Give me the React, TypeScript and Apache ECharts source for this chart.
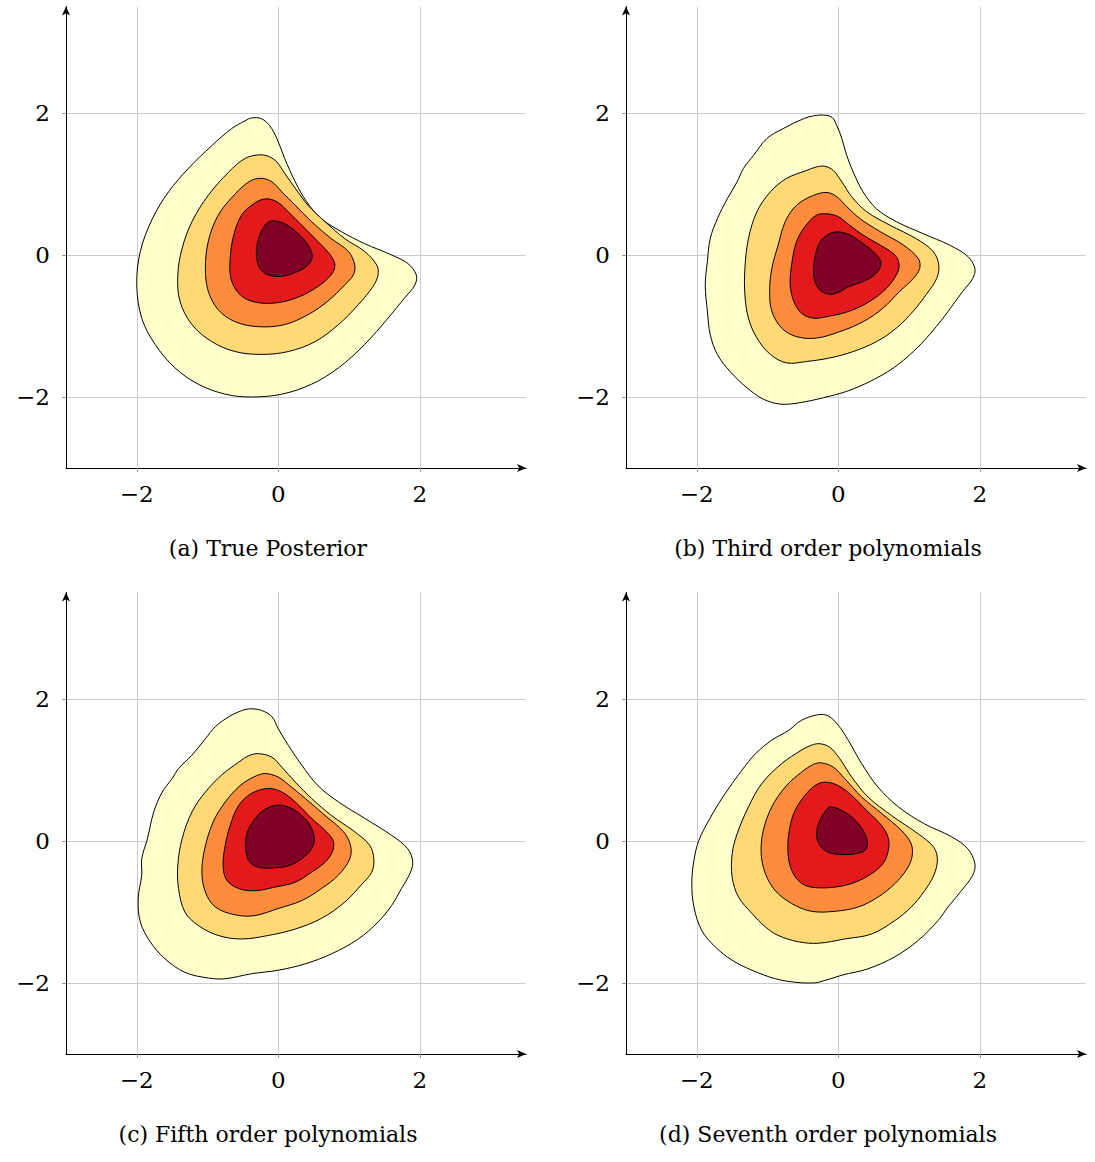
import React, { useEffect, useRef } from "react";
import * as echarts from "echarts";

// ---------- data (contour polygons in data units) ----------
const LEVEL_COLORS = ["#FFFFCC", "#FED976", "#FD8D3C", "#E31A1C", "#800026"];
const TICKS = [-2, 0, 2];
const CAPTIONS = [
  "(a) True Posterior",
  "(b) Third order polynomials",
  "(c) Fifth order polynomials",
  "(d) Seventh order polynomials",
];

// (a) True Posterior
const A1 = [[-0.38,1.93],[-0.24,1.92],[-0.12,1.82],[-0.02,1.64],[0.09,1.36],[0.24,1.03],[0.40,0.75],[0.61,0.51],[0.89,0.33],[1.22,0.16],[1.60,0],[1.83,-0.12],[1.95,-0.28],[1.93,-0.42],[1.78,-0.61],[1.55,-0.89],[1.22,-1.26],[0.85,-1.59],[0.47,-1.82],[0.05,-1.96],[-0.38,-2.0],[-0.75,-1.96],[-1.13,-1.82],[-1.46,-1.59],[-1.74,-1.26],[-1.93,-0.89],[-2.0,-0.42],[-1.95,0.05],[-1.78,0.51],[-1.55,0.89],[-1.27,1.22],[-0.94,1.54],[-0.66,1.78],[-0.47,1.89]];
const A2 = [[-0.28,1.41],[-0.14,1.39],[-0.02,1.31],[0.09,1.15],[0.24,0.94],[0.42,0.70],[0.66,0.47],[0.94,0.23],[1.22,0.05],[1.39,-0.14],[1.41,-0.28],[1.34,-0.44],[1.13,-0.70],[0.85,-0.98],[0.52,-1.22],[0.14,-1.36],[-0.24,-1.40],[-0.61,-1.36],[-0.94,-1.22],[-1.22,-0.98],[-1.39,-0.65],[-1.42,-0.28],[-1.36,0.09],[-1.22,0.47],[-0.99,0.84],[-0.70,1.17],[-0.47,1.36]];
const A3 = [[-0.24,1.08],[-0.09,1.03],[0.05,0.89],[0.24,0.70],[0.47,0.47],[0.75,0.23],[0.99,0.05],[1.08,-0.14],[1.06,-0.28],[0.94,-0.42],[0.70,-0.65],[0.42,-0.84],[0.09,-0.98],[-0.28,-1.01],[-0.61,-0.94],[-0.85,-0.77],[-0.99,-0.51],[-1.03,-0.19],[-0.99,0.19],[-0.85,0.56],[-0.61,0.86],[-0.40,1.04]];
const A4 = [[-0.19,0.79],[-0.02,0.75],[0.14,0.61],[0.33,0.42],[0.56,0.19],[0.75,-0.02],[0.80,-0.16],[0.73,-0.30],[0.52,-0.47],[0.24,-0.61],[-0.09,-0.68],[-0.38,-0.65],[-0.56,-0.54],[-0.67,-0.33],[-0.68,-0.05],[-0.63,0.28],[-0.52,0.56],[-0.35,0.72]];
const A5 = [[-0.09,0.48],[0.09,0.44],[0.28,0.30],[0.42,0.14],[0.48,-0.02],[0.42,-0.14],[0.28,-0.23],[0.05,-0.30],[-0.14,-0.28],[-0.26,-0.19],[-0.31,0],[-0.28,0.23],[-0.19,0.42]];

// (b) Third order polynomials
const B1 = [[-0.21,1.97],[-0.09,1.94],[-0.02,1.82],[0.05,1.64],[0.12,1.40],[0.21,1.17],[0.35,0.89],[0.54,0.65],[0.82,0.47],[1.20,0.30],[1.57,0.14],[1.83,-0.02],[1.93,-0.19],[1.90,-0.33],[1.76,-0.51],[1.62,-0.70],[1.48,-0.89],[1.29,-1.12],[1.06,-1.36],[0.78,-1.59],[0.45,-1.78],[0.12,-1.92],[-0.21,-2.01],[-0.54,-2.08],[-0.82,-2.10],[-1.06,-2.03],[-1.29,-1.87],[-1.53,-1.64],[-1.71,-1.40],[-1.81,-1.12],[-1.85,-0.79],[-1.88,-0.42],[-1.85,-0.09],[-1.81,0.23],[-1.71,0.51],[-1.57,0.79],[-1.43,1.03],[-1.34,1.22],[-1.20,1.40],[-1.01,1.64],[-0.78,1.78],[-0.49,1.92],[-0.35,1.96]];
const B2 = [[-0.19,1.25],[-0.07,1.19],[0.05,1.03],[0.19,0.82],[0.40,0.61],[0.73,0.42],[1.10,0.23],[1.34,0.05],[1.42,-0.14],[1.39,-0.33],[1.24,-0.56],[1.06,-0.79],[0.82,-1.03],[0.54,-1.22],[0.21,-1.36],[-0.12,-1.45],[-0.45,-1.50],[-0.73,-1.52],[-0.96,-1.40],[-1.15,-1.17],[-1.27,-0.89],[-1.32,-0.56],[-1.32,-0.19],[-1.27,0.23],[-1.15,0.61],[-0.96,0.89],[-0.73,1.08],[-0.45,1.19],[-0.31,1.24]];
const B3 = [[-0.16,0.88],[-0.02,0.82],[0.12,0.68],[0.31,0.51],[0.59,0.33],[0.92,0.14],[1.13,-0.05],[1.15,-0.19],[1.06,-0.33],[0.87,-0.51],[0.63,-0.75],[0.35,-0.94],[0.02,-1.08],[-0.31,-1.17],[-0.59,-1.15],[-0.80,-1.03],[-0.94,-0.79],[-0.97,-0.51],[-0.94,-0.19],[-0.85,0.14],[-0.75,0.47],[-0.59,0.70],[-0.35,0.84]];
const B4 = [[-0.16,0.58],[0,0.54],[0.16,0.42],[0.35,0.28],[0.59,0.14],[0.80,0],[0.86,-0.14],[0.82,-0.28],[0.68,-0.47],[0.45,-0.65],[0.16,-0.79],[-0.12,-0.86],[-0.35,-0.89],[-0.52,-0.82],[-0.63,-0.65],[-0.68,-0.42],[-0.66,-0.14],[-0.59,0.19],[-0.47,0.40],[-0.31,0.56]];
const B5 = [[-0.07,0.32],[0.12,0.30],[0.31,0.19],[0.49,0.05],[0.60,-0.09],[0.56,-0.23],[0.40,-0.35],[0.16,-0.44],[-0.07,-0.55],[-0.24,-0.51],[-0.33,-0.37],[-0.35,-0.19],[-0.31,0.05],[-0.24,0.21]];

// (c) Fifth order polynomials
const C1 = [[-0.42,1.86],[-0.24,1.84],[-0.09,1.75],[0,1.58],[0.14,1.35],[0.33,1.07],[0.56,0.78],[0.85,0.55],[1.22,0.32],[1.60,0.08],[1.83,-0.11],[1.90,-0.30],[1.85,-0.48],[1.74,-0.67],[1.60,-0.91],[1.41,-1.14],[1.13,-1.38],[0.75,-1.59],[0.38,-1.73],[0,-1.82],[-0.38,-1.87],[-0.75,-1.94],[-0.99,-1.93],[-1.32,-1.85],[-1.60,-1.66],[-1.81,-1.42],[-1.95,-1.14],[-1.98,-0.81],[-1.93,-0.48],[-1.93,-0.25],[-1.85,0.03],[-1.76,0.41],[-1.64,0.69],[-1.50,0.88],[-1.41,1.02],[-1.22,1.21],[-1.03,1.44],[-0.89,1.61],[-0.70,1.75],[-0.56,1.82]];
const C2 = [[-0.28,1.23],[-0.09,1.18],[0.05,1.04],[0.24,0.83],[0.47,0.60],[0.75,0.36],[1.08,0.13],[1.29,-0.06],[1.35,-0.25],[1.32,-0.44],[1.17,-0.62],[0.94,-0.86],[0.61,-1.09],[0.24,-1.24],[-0.14,-1.33],[-0.52,-1.38],[-0.85,-1.33],[-1.13,-1.19],[-1.32,-1.0],[-1.41,-0.67],[-1.42,-0.34],[-1.36,0.03],[-1.22,0.41],[-1.03,0.69],[-0.80,0.93],[-0.56,1.11],[-0.42,1.20]];
const C3 = [[-0.19,0.95],[0,0.90],[0.16,0.78],[0.38,0.60],[0.66,0.36],[0.92,0.13],[1.02,-0.06],[1.01,-0.25],[0.85,-0.48],[0.61,-0.67],[0.33,-0.84],[0,-0.95],[-0.33,-1.05],[-0.61,-1.04],[-0.89,-0.93],[-1.03,-0.72],[-1.08,-0.44],[-1.04,-0.11],[-0.92,0.27],[-0.75,0.55],[-0.54,0.78],[-0.35,0.90]];
const C4 = [[-0.14,0.74],[0.05,0.69],[0.24,0.55],[0.47,0.32],[0.68,0.13],[0.78,-0.01],[0.76,-0.16],[0.66,-0.30],[0.47,-0.44],[0.24,-0.58],[-0.05,-0.65],[-0.33,-0.70],[-0.56,-0.67],[-0.73,-0.55],[-0.78,-0.34],[-0.75,-0.06],[-0.68,0.22],[-0.56,0.50],[-0.38,0.67]];
const C5 = [[-0.05,0.50],[0.14,0.48],[0.33,0.36],[0.46,0.20],[0.51,0.03],[0.47,-0.11],[0.33,-0.25],[0.14,-0.35],[-0.09,-0.38],[-0.28,-0.37],[-0.40,-0.30],[-0.46,-0.13],[-0.45,0.08],[-0.38,0.24],[-0.24,0.41]];

// (d) Seventh order polynomials
const D1 = [[-0.28,1.78],[-0.14,1.76],[0,1.63],[0.14,1.42],[0.33,1.09],[0.56,0.76],[0.85,0.48],[1.22,0.24],[1.60,0.06],[1.83,-0.11],[1.93,-0.32],[1.90,-0.48],[1.74,-0.70],[1.55,-0.93],[1.41,-1.12],[1.13,-1.40],[0.80,-1.63],[0.42,-1.80],[0.05,-1.89],[-0.28,-1.99],[-0.42,-2.0],[-0.61,-1.99],[-0.89,-1.94],[-1.22,-1.82],[-1.50,-1.68],[-1.74,-1.49],[-1.93,-1.26],[-2.04,-0.93],[-2.07,-0.60],[-2.04,-0.27],[-1.97,0.01],[-1.83,0.29],[-1.69,0.53],[-1.50,0.81],[-1.36,1.0],[-1.17,1.23],[-0.94,1.42],[-0.70,1.56],[-0.52,1.70]];
const D2 = [[-0.26,1.37],[-0.12,1.32],[0.02,1.16],[0.19,0.90],[0.42,0.62],[0.75,0.36],[1.13,0.10],[1.35,-0.09],[1.40,-0.27],[1.35,-0.48],[1.22,-0.70],[1.03,-0.93],[0.80,-1.12],[0.47,-1.31],[0.09,-1.38],[-0.28,-1.44],[-0.56,-1.42],[-0.85,-1.33],[-1.03,-1.21],[-1.22,-1.02],[-1.41,-0.79],[-1.50,-0.51],[-1.50,-0.18],[-1.43,0.10],[-1.27,0.48],[-1.08,0.81],[-0.80,1.09],[-0.52,1.28],[-0.38,1.35]];
const D3 = [[-0.24,1.10],[-0.07,1.04],[0.09,0.88],[0.33,0.62],[0.61,0.39],[0.89,0.15],[1.03,-0.04],[1.04,-0.23],[0.96,-0.41],[0.80,-0.60],[0.56,-0.79],[0.28,-0.93],[-0.05,-0.99],[-0.38,-0.99],[-0.66,-0.88],[-0.89,-0.70],[-1.03,-0.46],[-1.09,-0.18],[-1.06,0.15],[-0.94,0.48],[-0.75,0.76],[-0.52,0.97],[-0.35,1.08]];
const D4 = [[-0.19,0.83],[0,0.78],[0.19,0.64],[0.40,0.43],[0.61,0.22],[0.71,0.03],[0.70,-0.16],[0.63,-0.32],[0.47,-0.46],[0.24,-0.58],[-0.05,-0.65],[-0.38,-0.65],[-0.54,-0.58],[-0.66,-0.41],[-0.71,-0.18],[-0.70,0.10],[-0.63,0.39],[-0.49,0.62],[-0.33,0.78]];
const D5 = [[-0.12,0.48],[0.05,0.43],[0.21,0.32],[0.35,0.15],[0.41,-0.01],[0.38,-0.13],[0.24,-0.18],[0.05,-0.19],[-0.14,-0.16],[-0.26,-0.06],[-0.31,0.10],[-0.26,0.29],[-0.19,0.41]];

const PANEL_LEVELS = [
  [A1, A2, A3, A4, A5],
  [B1, B2, B3, B4, B5],
  [C1, C2, C3, C4, C5],
  [D1, D2, D3, D4, D5],
];

// ---------- layout ----------
const GRIDS = [
  { left: 66, top: 6.5 },
  { left: 626, top: 6.5 },
  { left: 66, top: 592.5 },
  { left: 626, top: 592.5 },
];
const GRID_W = 460;
const GRID_H = 461.5;
const CAPTION_POS = [
  [268, 548],
  [828, 548],
  [268, 1134],
  [828, 1134],
];
const SERIF = "DejaVu Serif";

const fmt = (v: number) => (v < 0 ? "\u2212" + Math.abs(v) : String(v));

export default function App() {
  const ref = useRef<HTMLDivElement>(null);
  useEffect(() => {
    if (!ref.current) return;
    const chart = echarts.init(ref.current, undefined, { renderer: "svg" });

    const axisCommon = (i: number) => ({
      type: "value",
      gridIndex: i,
      min: -3,
      max: 3.5,
      axisLine: {
        show: true,
        onZero: false,
        symbol: ["none", "arrow"],
        symbolSize: [6, 9],
        lineStyle: { color: "#000", width: 1 },
      },
      axisTick: {
        show: true,
        customValues: TICKS,
        length: 4,
        lineStyle: { color: "#999", width: 1 },
      },
      axisLabel: {
        customValues: TICKS,
        formatter: fmt,
        fontFamily: SERIF,
        fontSize: 23,
        color: "#000",
      },
      splitLine: { show: true, lineStyle: { color: "#cccccc", width: 1 } },
    });

    const xAxis = GRIDS.map((_, i) => {
      const a: any = axisCommon(i);
      a.axisLabel.margin = 14;
      return a;
    });
    const yAxis = GRIDS.map((_, i) => {
      const a: any = axisCommon(i);
      a.axisLabel.margin = 16;
      return a;
    });

    const series = PANEL_LEVELS.map((levels, i) => ({
      type: "custom",
      xAxisIndex: i,
      yAxisIndex: i,
      data: levels.map((_, k) => [0, 0, k]),
      renderItem: (params: any, api: any) => {
        const k = api.value(2);
        const pts = levels[k].map((p) => api.coord(p));
        return {
          type: "polygon",
          shape: { points: pts, smooth: 0.35 },
          style: {
            fill: LEVEL_COLORS[k],
            stroke: "#000",
            lineWidth: 1,
          },
        };
      },
    }));

    chart.setOption({
      animation: false,
      backgroundColor: "#fff",
      grid: GRIDS.map((g) => ({
        left: g.left,
        top: g.top,
        width: GRID_W,
        height: GRID_H,
        containLabel: false,
      })),
      xAxis,
      yAxis,
      series,
      graphic: CAPTIONS.map((c, i) => ({
        type: "text",
        x: CAPTION_POS[i][0],
        y: CAPTION_POS[i][1],
        style: {
          text: c,
          fill: "#000",
          fontFamily: SERIF,
          fontSize: 22,
          align: "center",
          verticalAlign: "middle",
        },
      })),
    });
    return () => chart.dispose();
  }, []);
  return (
    <div
      ref={ref}
      style={{ position: "absolute", left: 0, top: 0, width: 1095, height: 1162 }}
    />
  );
}
